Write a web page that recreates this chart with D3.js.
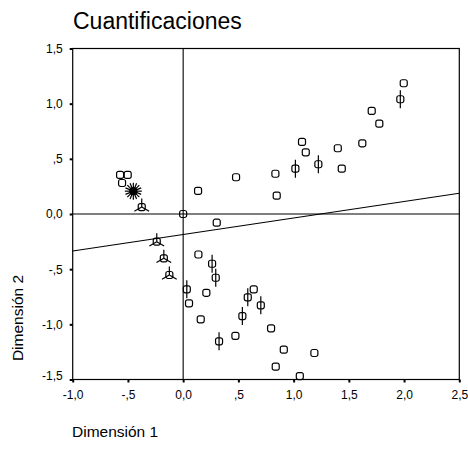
<!DOCTYPE html>
<html lang="es">
<head>
<meta charset="UTF-8">
<title>Cuantificaciones</title>
<script src="https://cdn.jsdelivr.net/npm/d3@7"></script>
<style>
  body { margin: 0; background: #fff; }
  text { font-family: Arial, "Liberation Sans", sans-serif; fill: #000; }
</style>
</head>
<body>
<script>
// category quantifications, one array per marker type  [dim1, dim2]
var squarePts = [
  [1.997, 1.185], [1.707, 0.934], [1.776, 0.819], [1.622, 0.641],
  [1.076, 0.653], [1.110, 0.559], [1.400, 0.596], [1.436, 0.411],
  [0.835, 0.365], [0.847, 0.166], [-0.571, 0.354], [-0.502, 0.354],
  [-0.553, 0.281], [0.135, 0.209], [0.479, 0.333], [0.304, -0.079],
  [0.0, 0.0], [0.138, -0.367], [0.053, -0.810], [0.210, -0.714],
  [0.159, -0.955], [0.639, -0.683], [0.796, -1.036], [0.473, -1.104],
  [0.911, -1.230], [1.188, -1.260], [0.838, -1.384], [1.056, -1.469]
];
var barPts = [
  [1.966, 1.040], [1.224, 0.451], [1.016, 0.411], [0.262, -0.451],
  [0.295, -0.578], [0.033, -0.683], [0.585, -0.755], [0.703, -0.828],
  [0.536, -0.925], [0.325, -1.154]
];
var starPts = [[-0.451, 0.207]];
var tripodPts = [[-0.375, 0.063], [-0.239, -0.251], [-0.175, -0.402], [-0.125, -0.553]];
var fitLine = [[-1.0, -0.335], [2.5, 0.188]];

var xTicks = [-1.0, -0.5, 0.0, 0.5, 1.0, 1.5, 2.0, 2.5];
var xTickLabels = ["-1,0", "-,5", "0,0", ",5", "1,0", "1,5", "2,0", "2,5"];
var yTicks = [-1.5, -1.0, -0.5, 0.0, 0.5, 1.0, 1.5];
var yTickLabels = ["-1,5", "-1,0", "-,5", "0,0", ",5", "1,0", "1,5"];

var width = 468, height = 449;
var svg = d3.select("body").append("svg")
    .attr("width", width)
    .attr("height", height);

var x = d3.scaleLinear().domain([-1.0, 2.5]).range([72.7, 459.3]);
var y = d3.scaleLinear().domain([-1.5, 1.5]).range([379.5, 48.5]);

// axes with the small square ticks
var xAxis = d3.axisBottom(x).tickValues(xTicks)
    .tickFormat(function(d, i) { return xTickLabels[i]; })
    .tickSize(3).tickPadding(8);
var yAxis = d3.axisLeft(y).tickValues(yTicks)
    .tickFormat(function(d, i) { return yTickLabels[i]; })
    .tickSize(3).tickPadding(7);

var gx = svg.append("g").attr("transform", "translate(0," + y(-1.5) + ")").call(xAxis);
var gy = svg.append("g").attr("transform", "translate(" + x(-1.0) + ",0)").call(yAxis);
[gx, gy].forEach(function(g) {
  g.select(".domain").remove();
  g.selectAll(".tick line").attr("stroke", "#000").attr("stroke-width", 2);
  g.selectAll(".tick text").attr("font-size", 12).attr("fill", "#000")
      .style("font-family", "Arial, 'Liberation Sans', sans-serif");
});
// bottom label sits a little higher, clear of the x labels
gy.selectAll(".tick text").filter(function(d) { return d === -1.5; }).attr("y", -4);

// frame and zero lines
svg.append("rect")
    .attr("x", x(-1.0)).attr("y", y(1.5))
    .attr("width", x(2.5) - x(-1.0)).attr("height", y(-1.5) - y(1.5))
    .attr("fill", "none").attr("stroke", "#000").attr("stroke-width", 1.2);
svg.append("line")
    .attr("x1", x(-1.0)).attr("x2", x(2.5)).attr("y1", y(0)).attr("y2", y(0))
    .attr("stroke", "#000").attr("stroke-width", 1.1);
svg.append("line")
    .attr("x1", x(0)).attr("x2", x(0)).attr("y1", y(1.5)).attr("y2", y(-1.5))
    .attr("stroke", "#000").attr("stroke-width", 1.1);

svg.append("path")
    .datum(fitLine)
    .attr("d", d3.line().x(function(d) { return x(d[0]); }).y(function(d) { return y(d[1]); }))
    .attr("fill", "none").attr("stroke", "#000").attr("stroke-width", 1.1);

var marks = svg.append("g").attr("fill", "none").attr("stroke", "#000").attr("stroke-width", 1.2);

function box(g) {
  g.append("rect").attr("x", -3.5).attr("y", -3.5).attr("width", 7).attr("height", 7).attr("rx", 2);
}

marks.selectAll(".sq").data(squarePts).enter().append("g")
    .attr("class", "sq")
    .attr("transform", function(d) { return "translate(" + x(d[0]) + "," + y(d[1]) + ")"; })
    .call(box);

var bars = marks.selectAll(".bar").data(barPts).enter().append("g")
    .attr("class", "bar")
    .attr("transform", function(d) { return "translate(" + x(d[0]) + "," + y(d[1]) + ")"; })
    .call(box);
bars.append("line").attr("x1", 0).attr("x2", 0).attr("y1", -9).attr("y2", 9);

var trip = marks.selectAll(".trip").data(tripodPts).enter().append("g")
    .attr("class", "trip")
    .attr("transform", function(d) { return "translate(" + x(d[0]) + "," + y(d[1]) + ")"; })
    .call(box);
[-90, 30, 150].forEach(function(a) {
  var r = a * Math.PI / 180;
  trip.append("line").attr("x1", 0).attr("y1", 0)
      .attr("x2", 8.5 * Math.cos(r)).attr("y2", 8.5 * Math.sin(r));
});

var star = marks.selectAll(".star").data(starPts).enter().append("g")
    .attr("class", "star")
    .attr("transform", function(d) { return "translate(" + x(d[0]) + "," + y(d[1]) + ")"; });
d3.range(16).forEach(function(k) {
  var r = k * Math.PI / 8;
  star.append("line").attr("x1", 0).attr("y1", 0)
      .attr("x2", 8.5 * Math.cos(r)).attr("y2", 8.5 * Math.sin(r));
});
star.append("circle").attr("r", 3.5).attr("fill", "#000");

// titles
svg.append("text").attr("x", 73).attr("y", 29).attr("font-size", 23).text("Cuantificaciones");
svg.append("text").attr("x", 72).attr("y", 437).attr("font-size", 15.5).text("Dimensión 1");
svg.append("text")
    .attr("transform", "translate(23," + 318 + ") rotate(-90)")
    .attr("text-anchor", "middle").attr("font-size", 15.5).text("Dimensión 2");
</script>
</body>
</html>
